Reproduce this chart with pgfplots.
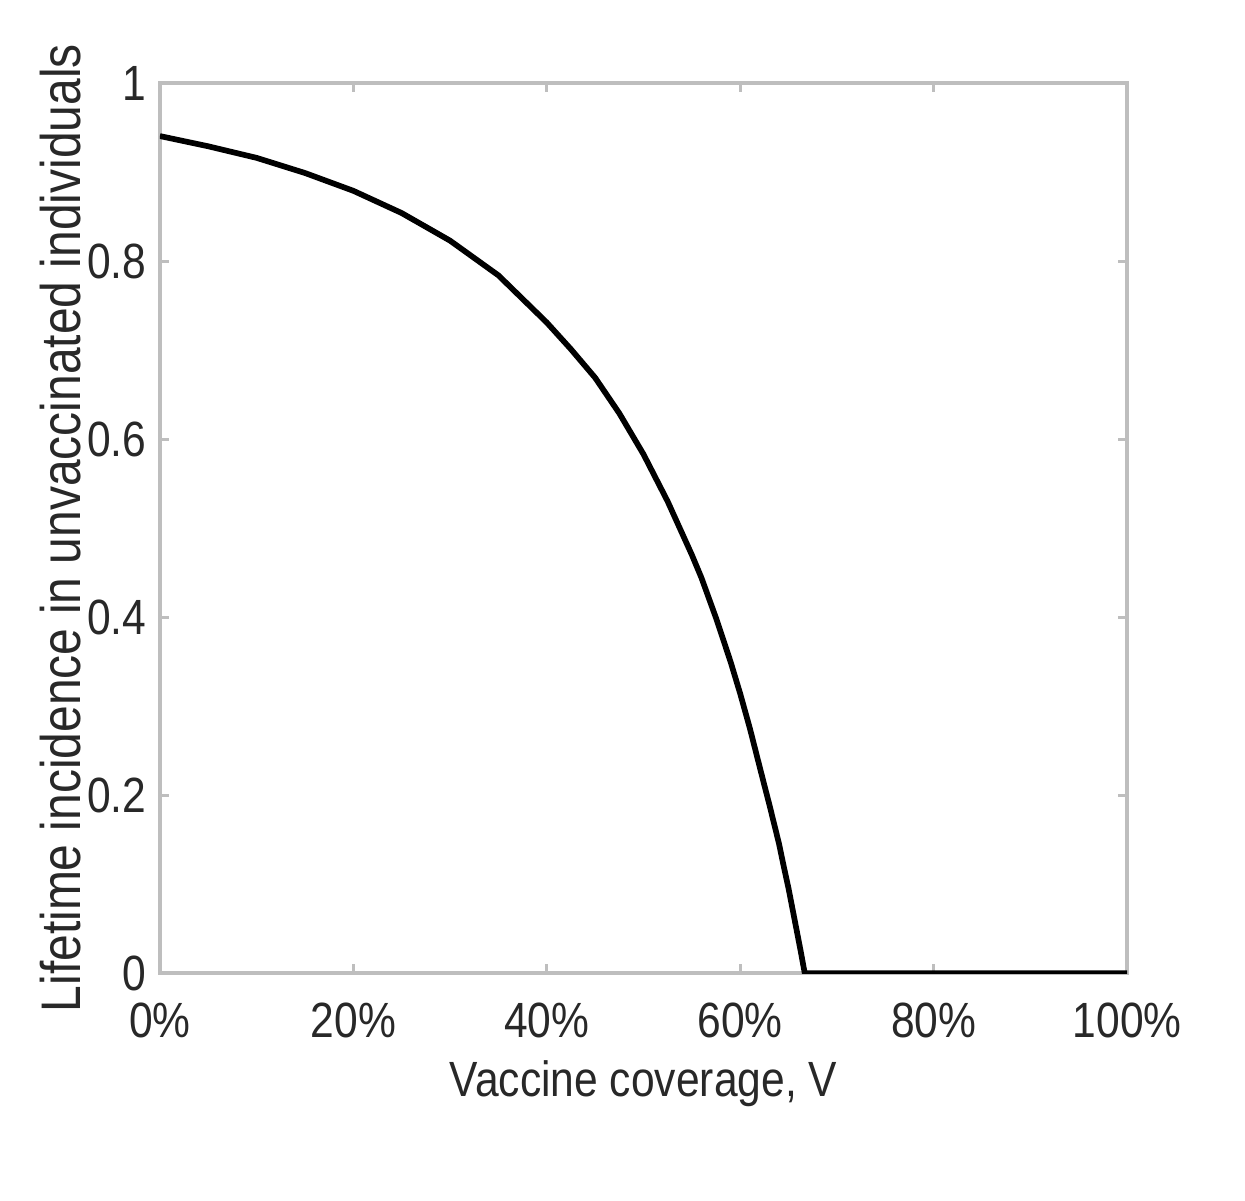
\documentclass[border=0pt]{standalone}
\usepackage{pgfplots}
\pgfplotsset{compat=1.18}
\usepackage{fontspec}
\setmainfont{Liberation Sans}[FakeStretch=0.86]
\definecolor{framegray}{RGB}{190,190,190}
\definecolor{textgray}{RGB}{40,40,40}

\begin{document}
\begin{tikzpicture}
\path[use as bounding box] (-53.3pt,-75.6pt) rectangle (361.7pt,324.4pt);
\begin{axis}[
    at={(0,0)}, anchor=south west,
    scale only axis,
    width=322.4pt, height=296.7pt,
    xmin=0, xmax=100, ymin=0, ymax=1,
    xtick={0,20,40,60,80,100},
    xticklabels={0\%,20\%,40\%,60\%,80\%,100\%},
    ytick={0,0.2,0.4,0.6,0.8,1},
    yticklabels={0,0.2,0.4,0.6,0.8,1},
    axis line style={framegray, line width=1.2pt},
    tick style={framegray, line width=1pt},
    major tick length=3pt,
    tick align=inside,
    ticklabel style={font=\fontsize{16.5}{18}\selectfont, text=textgray},
    xticklabel style={yshift=-6.5pt},
    yticklabel style={xshift=-1pt},
    xlabel={Vaccine coverage, V},
    ylabel={Lifetime incidence in unvaccinated individuals},
    every axis x label/.style={at={(axis description cs:0.5,0)}, anchor=center,
        yshift=-36.7pt, font=\fontsize{16.5}{18}\selectfont, text=textgray},
    every axis y label/.style={at={(axis description cs:0,0.5)}, anchor=center,
        rotate=90, yshift=33pt, font=\fontsize{18.6}{20}\selectfont, text=textgray},
]
\addplot[black, line width=1.9pt, line join=round] coordinates {
(0,0.9405) (5,0.929) (10,0.916) (15,0.899) (20,0.879) (25,0.854)
(30,0.823) (35,0.784) (40,0.731) (42.5,0.701) (45,0.669) (47.5,0.629)
(50,0.583) (52.5,0.530) (55,0.470) (56,0.444) (57.5,0.399) (59,0.350)
(60,0.314) (61,0.275) (62.5,0.211) (63,0.190) (64,0.146) (64.5,0.120)
(65,0.095) (65.5,0.067) (66,0.039) (66.3,0.022)
(66.67,0) (70,0) (80,0) (90,0) (100,0)
};
\end{axis}
\end{tikzpicture}
\end{document}
